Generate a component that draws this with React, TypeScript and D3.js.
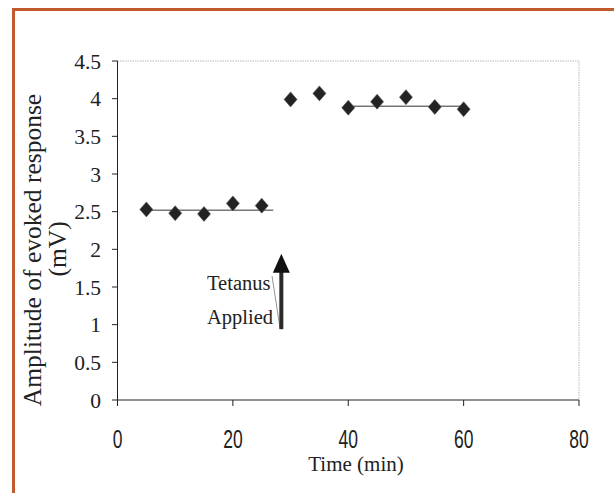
import React from "react";
import * as d3 from "d3";

// readings
const times = [5, 10, 15, 20, 25, 30, 35, 40, 45, 50, 55, 60];
const amplitudes = [2.53, 2.48, 2.47, 2.61, 2.58, 3.99, 4.07, 3.88, 3.96, 4.02, 3.89, 3.86];
const meanStart = [4.5, 40];
const meanEnd = [27, 60];
const meanValue = [2.52, 3.9];
const xTicks = [0, 20, 40, 60, 80];
const yTicks = [0, 0.5, 1, 1.5, 2, 2.5, 3, 3.5, 4, 4.5];
const yTickLabels = ["0", "0.5", "1", "1.5", "2", "2.5", "3", "3.5", "4", "4.5"];
const tetanusTime = 28.4;
const arrowFrom = 0.94;
const arrowTo = 1.94;

const W = 614;
const H = 493;
const serif = "'Liberation Serif', 'Times New Roman', serif";
const sans = "'Liberation Sans', Arial, sans-serif";

const App = () => {
  const x = d3.scaleLinear().domain([0, 80]).range([117.5, 579]);
  const y = d3.scaleLinear().domain([0, 4.5]).range([400, 61]);

  const ax = x(tetanusTime);
  const tip = y(arrowTo);
  const base = y(arrowFrom);
  const headBase = tip + 19;

  return (
    <svg width={W} height={H} style={{ position: "absolute", left: 0, top: 0, background: "#fff" }}>
      {/* outer frame */}
      <path d={`M13.5,${H + 5} V9.5 H${W + 5}`} fill="none" stroke="#c15a2c" strokeWidth={3} />

      {/* plot box top/right */}
      <path
        d={`M${x(0)},${y(4.5)} H${x(80)} V${y(0)}`}
        fill="none"
        stroke="#b8b8b8"
        strokeWidth={1}
        strokeDasharray="1.5,1"
      />

      {/* y axis */}
      <line x1={x(0)} x2={x(0)} y1={y(0)} y2={y(4.5)} stroke="#222" strokeWidth={1} />
      {yTicks.map((t, i) => (
        <g key={"y" + t}>
          <line x1={x(0) - 5.5} x2={x(0)} y1={y(t)} y2={y(t)} stroke="#222" strokeWidth={1} />
          <text
            x={101}
            y={y(t)}
            dy="0.35em"
            textAnchor="end"
            fontFamily={serif}
            fontSize={21.5}
            fill="#222"
          >
            {yTickLabels[i]}
          </text>
        </g>
      ))}

      {/* x axis */}
      <line x1={x(0)} x2={x(80)} y1={y(0)} y2={y(0)} stroke="#222" strokeWidth={1} />
      {xTicks.map((t) => (
        <g key={"x" + t}>
          <line x1={x(t)} x2={x(t)} y1={y(0)} y2={y(0) + 6} stroke="#222" strokeWidth={1} />
          <text
            transform={`translate(${x(t)},448) scale(0.7,1)`}
            textAnchor="middle"
            fontFamily={sans}
            fontSize={25}
            fill="#222"
          >
            {t}
          </text>
        </g>
      ))}

      <text x={356} y={471} textAnchor="middle" fontFamily={serif} fontSize={21} fill="#222">
        Time (min)
      </text>

      <g fontFamily={serif} fontSize={25.5} fill="#222" textAnchor="middle">
        <text transform="translate(41,250) rotate(-90)">Amplitude of evoked response</text>
        <text transform="translate(66,249) rotate(-90)">(mV)</text>
      </g>

      {/* mean lines */}
      {meanValue.map((v, i) => (
        <line
          key={"m" + i}
          x1={x(meanStart[i])}
          x2={x(meanEnd[i])}
          y1={y(v)}
          y2={y(v)}
          stroke="#333"
          strokeWidth={1}
        />
      ))}

      {/* markers */}
      {times.map((t, i) => (
        <polygon
          key={"p" + t}
          transform={`translate(${x(t)},${y(amplitudes[i])})`}
          points="0,-7.5 6.5,0 0,7.5 -6.5,0"
          fill="#232323"
          stroke="#555"
          strokeWidth={0.6}
        />
      ))}

      {/* tetanus annotation */}
      <g fontFamily={serif} fontSize={20.5} fill="#222">
        <text x={207} y={290}>Tetanus</text>
        <text x={207} y={324}>Applied</text>
      </g>
      <line x1={272} y1={276} x2={280} y2={328} stroke="#777" strokeWidth={0.8} />
      <rect x={ax - 2} y={headBase - 1} width={4} height={base - headBase + 1} fill="#2a2a2a" />
      <polygon
        points={`${ax},${tip} ${ax + 8.5},${headBase} ${ax - 8.5},${headBase}`}
        fill="#111"
      />
    </svg>
  );
};

export default App;
